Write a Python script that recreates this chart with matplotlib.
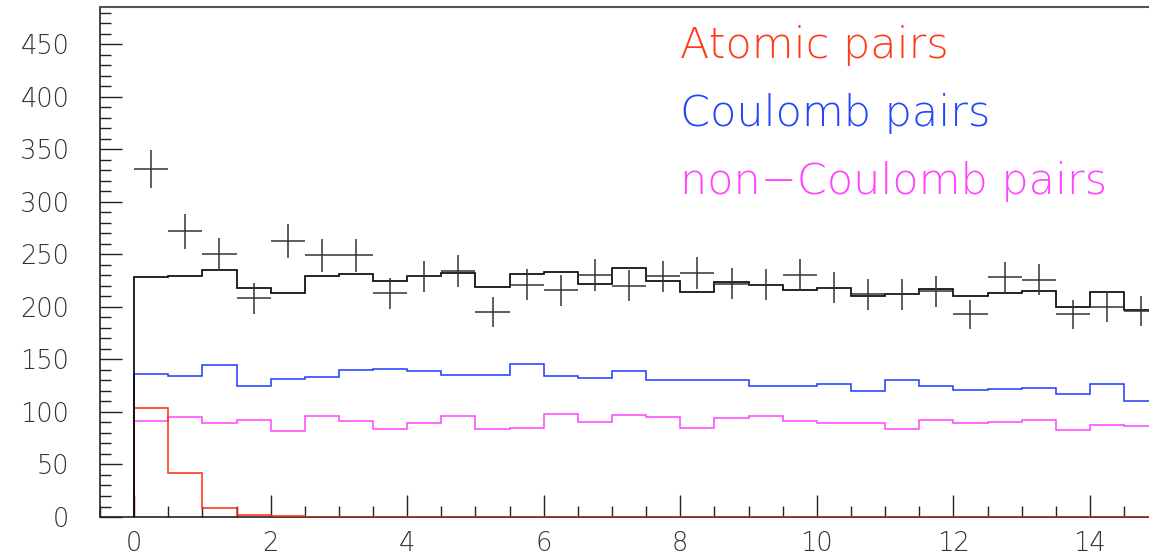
import numpy as np
import matplotlib
matplotlib.use('Agg')
import matplotlib.pyplot as plt
from matplotlib.ticker import MultipleLocator

# bin edges: 30 bins of width 0.5 from 0 to 15
bin_edges = [0.0, 0.5, 1.0, 1.5, 2.0, 2.5, 3.0, 3.5, 4.0, 4.5, 5.0, 5.5, 6.0, 6.5, 7.0,
             7.5, 8.0, 8.5, 9.0, 9.5, 10.0, 10.5, 11.0, 11.5, 12.0, 12.5, 13.0, 13.5,
             14.0, 14.5, 15.0]

# measured pair counts per bin
data_counts = [331, 272, 250, 208, 263, 249, 249, 213, 229, 234, 195, 221, 216, 230, 220,
               229, 232, 222, 221, 230, 218, 212, 212, 215, 193, 228, 226, 193, 200, 196]

# simulated total (Coulomb + non-Coulomb)
total_mc = [228, 229, 235, 218, 213, 229, 231, 225, 229, 232, 219, 231, 233, 222, 237,
            225, 214, 224, 221, 216, 218, 210, 212, 217, 210, 213, 215, 200, 214, 197]

atomic = [103.5, 41.6, 8.9, 2.2, 0.5, 0, 0, 0, 0, 0, 0, 0, 0, 0, 0,
          0, 0, 0, 0, 0, 0, 0, 0, 0, 0, 0, 0, 0, 0, 0]

coulomb = [136.5, 134, 145, 125, 131, 133, 140, 141, 138.5, 135, 135, 145.5, 134.5, 132, 139,
           130, 130, 130, 124.5, 125, 127, 120, 130, 124.5, 121, 122, 123, 117.5, 126.5, 110.5]

non_coulomb = [91.5, 95, 89.5, 92.5, 81.5, 96, 91.5, 84, 89.5, 96.5, 84, 85, 98, 90, 97,
               95, 85, 94, 96.5, 91.5, 89.5, 89.5, 84, 92.5, 89, 90.5, 92.5, 82.5, 88, 87]

labels = ['Atomic pairs', 'Coulomb pairs', 'non\u2212Coulomb pairs']
label_colors = ['#ff3a1a', '#2244ff', '#ff44ff']

plt.rcParams['font.family'] = ['DejaVu Sans']
plt.rcParams['font.weight'] = 200

fig = plt.figure(figsize=(11.49, 5.57), dpi=100)
ax = fig.add_axes([0.087, 0.0718, 0.913, 0.9156])

edges = np.array(bin_edges)
centers = 0.5 * (edges[:-1] + edges[1:])
counts = np.array(data_counts, dtype=float)

ax.stairs(atomic, edges, baseline=0, color='#ff2a10', lw=1.1, zorder=2.8)
ax.stairs(coulomb, edges, baseline=0, color='#1a3cff', lw=1.1, zorder=2)
ax.stairs(non_coulomb, edges, baseline=0, color='#ff44ff', lw=1.1, zorder=2)
ax.stairs(total_mc, edges, baseline=0, color='black', lw=1.2, zorder=3)

# data points with bin-width and Poisson errors
ax.errorbar(centers, counts, xerr=0.25, yerr=np.sqrt(counts), fmt='none',
            ecolor='#333333', elinewidth=1.1, capsize=0, zorder=5)

ax.set_xlim(-0.5, 14.865)
ax.set_ylim(0, 485.4)

ax.xaxis.set_major_locator(MultipleLocator(2))
ax.xaxis.set_minor_locator(MultipleLocator(0.5))
ax.yaxis.set_major_locator(MultipleLocator(50))
ax.yaxis.set_minor_locator(MultipleLocator(10))

ax.tick_params(which='both', direction='in', colors='#222222', top=False, right=False)
ax.tick_params(which='major', length=16, width=1.0)
ax.tick_params(which='minor', length=8, width=1.0)
ax.tick_params(axis='y', which='major', pad=22, labelsize=18.5, labelcolor='#333333')
ax.tick_params(axis='x', which='major', pad=10, labelsize=18.5, labelcolor='#333333')

for side in ['left', 'bottom']:
    ax.spines[side].set_color('#222222')
    ax.spines[side].set_linewidth(1.2)
ax.spines['top'].set_color('#555555')
ax.spines['top'].set_linewidth(1.5)
ax.spines['right'].set_visible(False)

for i, (txt, col) in enumerate(zip(labels, label_colors)):
    ax.text(0.5525, 0.90 - i * 0.1335, txt, color=col, fontsize=31,
            transform=ax.transAxes, ha='left', va='baseline')

fig.savefig('out.png', dpi=100)
